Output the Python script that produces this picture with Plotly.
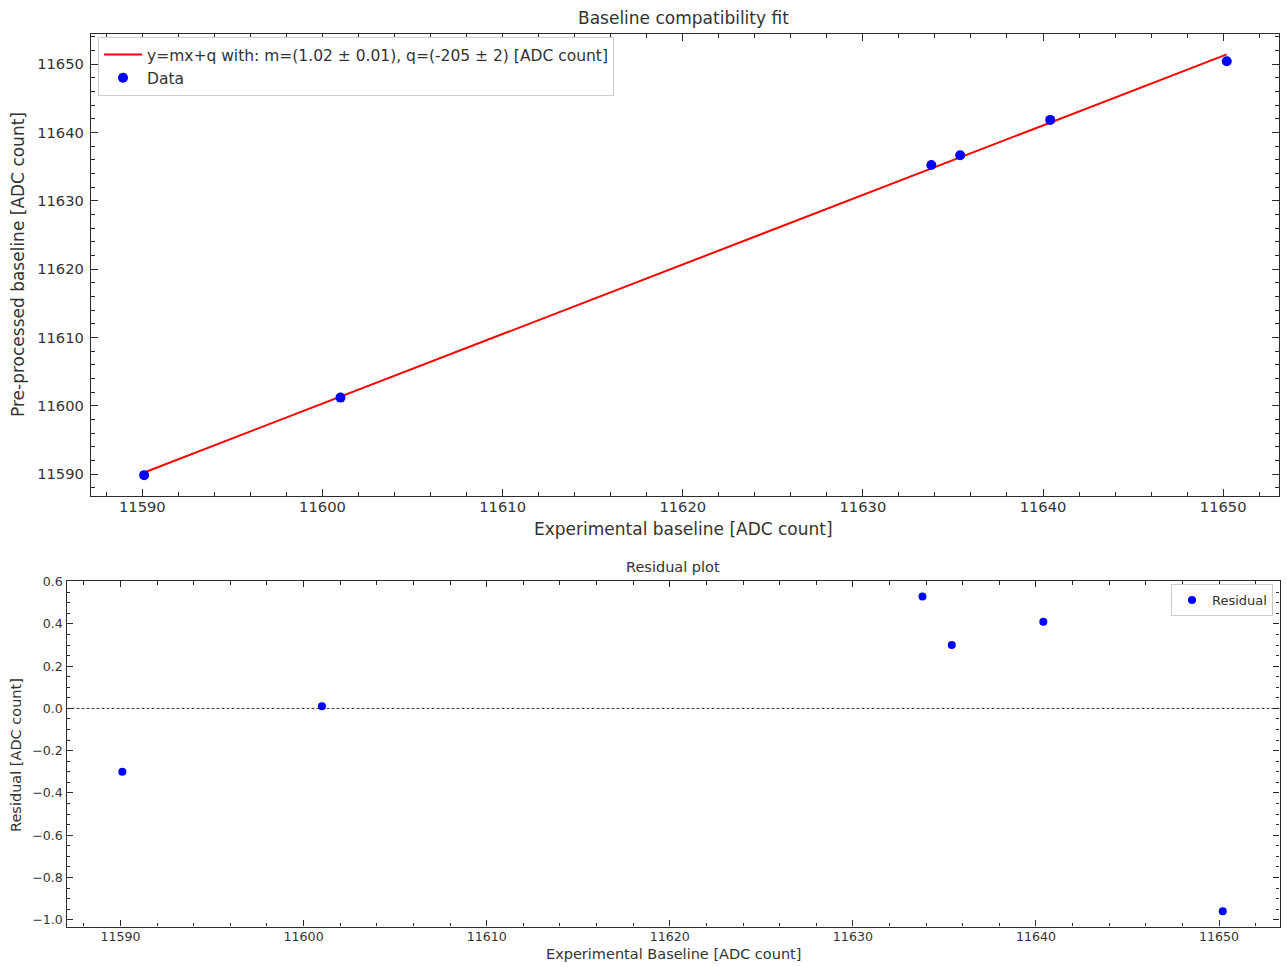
import numpy as np
import plotly.graph_objects as go

# Measured baselines [ADC count]
experimental = [11590.1, 11601.0, 11633.8, 11635.4, 11640.4, 11650.2]
preprocessed = [11589.85, 11601.2, 11635.24, 11636.66, 11641.83, 11650.42]
residuals = [-0.30, 0.01, 0.53, 0.30, 0.41, -0.96]

# Linear fit parameters y = m*x + q
fit_m = 1.0177
fit_q = -205.0
fit_label = "y=mx+q with: m=(1.02 \u00b1 0.01), q=(-205 \u00b1 2) [ADC count]"

FONT = "DejaVu Sans"
TXT = "#333333"
AX = "#2b2b2b"
W, H = 1287, 967

x_line = np.array([min(experimental), max(experimental)])
y_line = fit_m * x_line + fit_q

fig = go.Figure()
fig.add_trace(go.Scatter(
    x=x_line, y=y_line, mode="lines", name=fit_label,
    line=dict(color="#ff0000", width=2), xaxis="x", yaxis="y", legend="legend"))
fig.add_trace(go.Scatter(
    x=experimental, y=preprocessed, mode="markers", name="Data",
    marker=dict(color="#0000ff", size=10), xaxis="x", yaxis="y", legend="legend"))
fig.add_trace(go.Scatter(
    x=experimental, y=residuals, mode="markers", name="Residual",
    marker=dict(color="#0000ff", size=8), xaxis="x2", yaxis="y2", legend="legend2"))


def axis_style(tick_size, major_len, minor_len, dtick, minor_dtick, fmt):
    return dict(
        showline=True, linecolor=AX, linewidth=1.3, mirror="allticks",
        ticks="inside", ticklen=major_len, tickwidth=1.1, tickcolor=AX,
        dtick=dtick, showgrid=False, zeroline=False, automargin=False,
        tickformat=fmt, separatethousands=False,
        tickfont=dict(family=FONT, size=tick_size, color=TXT),
        minor=dict(ticks="inside", ticklen=minor_len, tickwidth=1, tickcolor=AX,
                   dtick=minor_dtick, showgrid=False),
    )


top_x = [91 / W, 1279 / W]
top_y = [1 - 496 / H, 1 - 34 / H]
bot_x = [66.5 / W, 1279.5 / W]
bot_y = [1 - 926.5 / H, 1 - 581 / H]

fig.update_layout(
    width=W, height=H,
    margin=dict(l=0, r=0, t=0, b=0, autoexpand=False),
    paper_bgcolor="white", plot_bgcolor="white",
    xaxis=dict(domain=top_x, anchor="y", range=[11587.15, 11653.1], tick0=11590,
               ticklabelstandoff=-3, **axis_style(14.7, 7, 4, 10, 2, "d")),
    yaxis=dict(domain=top_y, anchor="x", range=[11586.8, 11654.4], tick0=11590,
               ticklabelstandoff=3, **axis_style(14.7, 7, 4, 10, 2, "d")),
    xaxis2=dict(domain=bot_x, anchor="y2", range=[11587.05, 11653.3], tick0=11590,
                ticklabelstandoff=-2, **axis_style(12.6, 6, 3.5, 10, 2, "d")),
    yaxis2=dict(domain=bot_y, anchor="x2", range=[-1.032, 0.603], tick0=0,
                **axis_style(12.6, 6, 3.5, 0.2, 0.05, ".1f")),
    legend=dict(x=98 / W, y=1 - 37 / H, xanchor="left", yanchor="top",
                bgcolor="white", bordercolor="#cccccc", borderwidth=1,
                itemwidth=38,
                font=dict(family=FONT, size=15.5, color=TXT), tracegroupgap=0),
    legend2=dict(x=1273 / W, y=1 - 584 / H, xanchor="right", yanchor="top",
                 bgcolor="white", bordercolor="#cccccc", borderwidth=1,
                 font=dict(family=FONT, size=13, color=TXT)),
    showlegend=True,
)

# Zero reference line on the residual panel
fig.add_shape(type="line", xref="x2 domain", yref="y2", x0=0, x1=1, y0=0, y1=0,
              line=dict(color="black", width=0.8, dash="3px,2px"), layer="below")

# Titles and axis labels
annotations = [
    dict(text="Baseline compatibility fit", x=683.5 / W, y=1 - 18 / H, size=17, angle=0),
    dict(text="Experimental baseline [ADC count]", x=683.5 / W, y=1 - 529 / H, size=17, angle=0),
    dict(text="Pre-processed baseline [ADC count]", x=18 / W, y=1 - 265 / H, size=17, angle=-90),
    dict(text="Residual plot", x=673 / W, y=1 - 567 / H, size=14.5, angle=0),
    dict(text="Experimental Baseline [ADC count]", x=673 / W, y=1 - 954 / H, size=14.5, angle=0),
    dict(text="Residual [ADC count]", x=16 / W, y=1 - 755 / H, size=14.5, angle=-90),
]
for a in annotations:
    fig.add_annotation(text=a["text"], x=a["x"], y=a["y"], xref="paper", yref="paper",
                       xanchor="center", yanchor="middle", showarrow=False,
                       textangle=a["angle"],
                       font=dict(family=FONT, size=a["size"], color=TXT))

fig.write_html("out.html")
